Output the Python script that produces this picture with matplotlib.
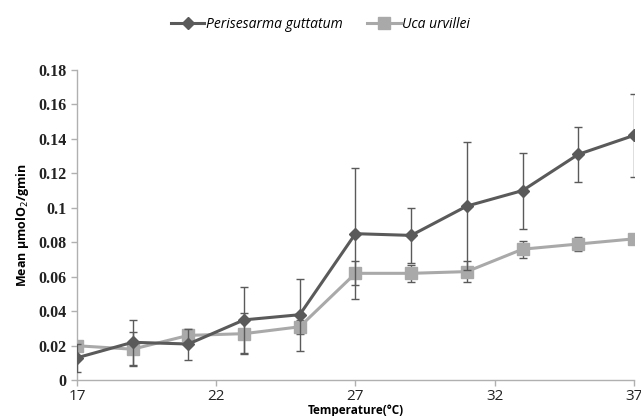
import matplotlib
matplotlib.use('Agg')
import matplotlib.pyplot as plt
from matplotlib.lines import Line2D

# temperature steps (deg C)
temps = [17, 19, 21, 23, 25, 27, 29, 31, 33, 35, 37]

# Perisesarma guttatum
perisesarma = [0.013, 0.022, 0.021, 0.035, 0.038, 0.085, 0.084, 0.101, 0.110, 0.131, 0.142]
perisesarma_err = [0.008, 0.013, 0.009, 0.019, 0.021, 0.038, 0.016, 0.037, 0.022, 0.016, 0.024]

# Uca urvillei
uca = [0.020, 0.018, 0.026, 0.027, 0.031, 0.062, 0.062, 0.063, 0.076, 0.079, 0.082]
uca_err = [0.002, 0.010, 0.004, 0.012, 0.004, 0.007, 0.005, 0.006, 0.005, 0.004, 0.002]

xticks = [17, 22, 27, 32, 37]
yticks = [0, 0.02, 0.04, 0.06, 0.08, 0.1, 0.12, 0.14, 0.16, 0.18]
ytick_labels = ['0', '0.02', '0.04', '0.06', '0.08', '0.1', '0.12', '0.14', '0.16', '0.18']

dark = '#5a5a5a'
light = '#a9a9a9'

fig = plt.figure(figsize=(6.41, 4.16), dpi=100)
ax = fig.add_axes([0.12, 0.086, 0.869, 0.746])

ax.errorbar(temps, uca, yerr=uca_err, color=light, marker='s', markersize=9,
            linewidth=2.2, ecolor=dark, elinewidth=1.0, capsize=3, capthick=1.0, zorder=2)
ax.errorbar(temps, perisesarma, yerr=perisesarma_err, color=dark, marker='D', markersize=6,
            linewidth=2.2, ecolor=dark, elinewidth=1.0, capsize=3, capthick=1.0, zorder=3)

ax.set_xlim(17, 37)
ax.set_ylim(0, 0.18)
ax.set_xticks(xticks)
ax.set_yticks(yticks)
ax.set_yticklabels(ytick_labels)

for s in ['top', 'right']:
    ax.spines[s].set_visible(False)
for s in ['left', 'bottom']:
    ax.spines[s].set_color('#b0b0b0')
    ax.spines[s].set_linewidth(1.0)
ax.tick_params(axis='both', colors='#b0b0b0', length=4, width=1.0, labelcolor='#222222')
ax.tick_params(axis='x', pad=2)
for lbl in ax.get_yticklabels():
    lbl.set_fontfamily('Liberation Serif')
    lbl.set_fontsize(11.5)
    lbl.set_fontweight('bold')
for lbl in ax.get_xticklabels():
    lbl.set_fontfamily('Open Sans')
    lbl.set_fontsize(11)

ax.set_xlabel('Temperature(°C)', fontsize=8.5, fontweight='bold', family='Open Sans', labelpad=0)
ax.set_ylabel('Mean μmolO$_2$/gmin', fontsize=9, fontweight='bold', family='Open Sans', labelpad=5)

# legend without error bar glyphs, like the original
handles = [Line2D([], [], color=dark, marker='D', markersize=6, linewidth=2.2),
           Line2D([], [], color=light, marker='s', markersize=8, linewidth=2.2)]
labels = ['Perisesarma guttatum', 'Uca urvillei']
leg = fig.legend(handles, labels, loc='upper center', bbox_to_anchor=(0.5, 0.99),
                 ncol=2, frameon=False, handlelength=2.4, columnspacing=1.8, handletextpad=0.1,
                 prop={'family': 'Open Sans', 'style': 'italic', 'size': 10})

fig.savefig('out.png', dpi=100)
